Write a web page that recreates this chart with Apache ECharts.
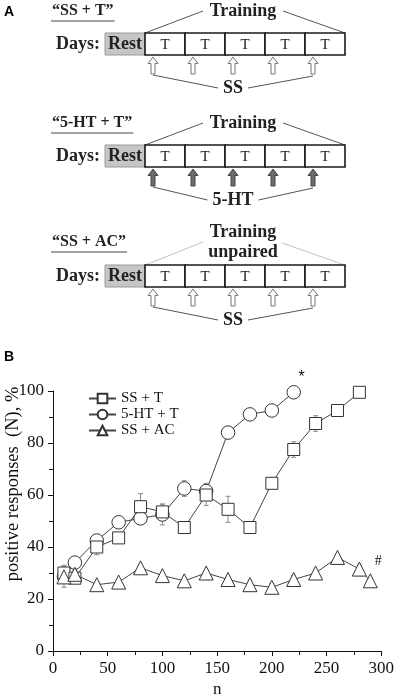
<!DOCTYPE html>
<html><head><meta charset="utf-8">
<script src="https://cdn.jsdelivr.net/npm/echarts@6/dist/echarts.min.js"></script>
<style>html,body{margin:0;padding:0;background:#fff}#c{width:397px;height:699px}</style>
</head><body><div id="c"></div>
<script>
// ---------- Data (panel B) ----------
const seriesNames = ['SS + T', '5-HT + T', 'SS + AC'];
const ssT_n   = [10, 20, 40, 60, 80, 100, 120, 140, 160, 180, 200, 220, 240, 260, 280];
const ssT_v   = [30, 28, 40, 43.5, 55.5, 53.5, 47.5, 60, 54.5, 47.5, 64.5, 77.5, 87.5, 92.5, 99.5];
const ssT_e   = [3, 2, 3, 2, 5, 3, 2, 4, 5, 2, 2, 3, 3, 2, 0];
const htT_n   = [10, 20, 40, 60, 80, 100, 120, 140, 160, 180, 200, 220];
const htT_v   = [28.5, 34, 42.5, 49.5, 51, 52.5, 62.5, 61.5, 84, 91, 92.5, 99.5];
const htT_e   = [4, 1, 2, 1, 2, 4, 3, 3, 1, 1, 1, 0];
const ssAC_n  = [10, 20, 40, 60, 80, 100, 120, 140, 160, 180, 200, 220, 240, 260, 280, 290];
const ssAC_v  = [28.5, 29.5, 25.5, 26.5, 32, 29, 27, 30, 27.5, 25.5, 24.5, 27.5, 30, 36, 31.5, 27];
const ssAC_e  = [2, 1.5, 1, 1, 1, 1, 1, 1, 1, 1.5, 1.5, 1.5, 1, 1, 1.5, 1];
const xTicks  = [0, 50, 100, 150, 200, 250, 300];
const yTicks  = [0, 20, 40, 60, 80, 100];
const xName = 'n';
const yName = 'positive responses  (N), %';
const starMark = {n: 220, v: 99.5, text: '*'};
const hashMark = {n: 290, v: 27, text: '#'};

// ---------- Data (panel A) ----------
const schemeTitles   = ['\u201cSS + T\u201d', '\u201c5-HT + T\u201d', '\u201cSS + AC\u201d'];
const schemeTraining = [['Training'], ['Training'], ['Training', 'unpaired']];
const schemeAgents   = ['SS', '5-HT', 'SS'];
const schemeFilled   = [false, true, false];
const schemeFaint    = [false, false, true];
const dayCells       = ['T', 'T', 'T', 'T', 'T'];
const restLabel = 'Rest';
const daysLabel = 'Days:';

const SERIF = '"Liberation Serif", "Times New Roman", serif';
const SANS = '"Liberation Sans", Arial, sans-serif';

const ctx = document.createElement('canvas').getContext('2d');
function measure(t, f) { ctx.font = f; return ctx.measureText(t).width; }

function buildPanelA() {
  const els = [];
  const boxTops = [33, 145, 265];
  els.push({type: 'text', x: 4, y: 12, style: {text: 'A', fontFamily: SANS, fontWeight: 'bold', fontSize: 14, fill: '#000', verticalAlign: 'middle'}});
  els.push({type: 'text', x: 4, y: 357, style: {text: 'B', fontFamily: SANS, fontWeight: 'bold', fontSize: 14, fill: '#000', verticalAlign: 'middle'}});
  schemeTitles.forEach((title, i) => {
    const t = boxTops[i];
    const faint = schemeFaint[i];
    const tr = schemeTraining[i];
    const titleY = tr.length > 1 ? t - 23 : t - 22;
    els.push({type: 'text', x: 52, y: titleY, style: {text: title, fontFamily: SERIF, fontWeight: 'bold', fontSize: 16, fill: '#222', verticalAlign: 'middle'}});
    const w = measure(title, 'bold 16px ' + SERIF);
    els.push({type: 'line', shape: {x1: 51, y1: titleY + 10, x2: 53 + w, y2: titleY + 10}, style: {stroke: '#444', lineWidth: 1}});
    const lineCol = faint ? '#c4c4c4' : '#555';
    if (tr.length === 1) {
      els.push({type: 'text', x: 243, y: t - 22, style: {text: tr[0], fontFamily: SERIF, fontWeight: 'bold', fontSize: 18, fill: '#222', align: 'center', verticalAlign: 'middle'}});
      els.push({type: 'line', shape: {x1: 145, y1: t, x2: 203, y2: t - 22}, style: {stroke: lineCol, lineWidth: 1}});
      els.push({type: 'line', shape: {x1: 283, y1: t - 22, x2: 345, y2: t}, style: {stroke: lineCol, lineWidth: 1}});
    } else {
      els.push({type: 'text', x: 243, y: t - 33, style: {text: tr[0], fontFamily: SERIF, fontWeight: 'bold', fontSize: 18, fill: '#222', align: 'center', verticalAlign: 'middle'}});
      els.push({type: 'text', x: 243, y: t - 13, style: {text: tr[1], fontFamily: SERIF, fontWeight: 'bold', fontSize: 18, fill: '#222', align: 'center', verticalAlign: 'middle'}});
      els.push({type: 'line', shape: {x1: 145, y1: t, x2: 203, y2: t - 23}, style: {stroke: lineCol, lineWidth: 1}});
      els.push({type: 'line', shape: {x1: 282, y1: t - 22, x2: 345, y2: t}, style: {stroke: lineCol, lineWidth: 1}});
    }
    els.push({type: 'text', x: 100, y: t + 11, style: {text: daysLabel, fontFamily: SERIF, fontWeight: 'bold', fontSize: 18, fill: '#222', align: 'right', verticalAlign: 'middle'}});
    els.push({type: 'rect', shape: {x: 105, y: t, width: 40, height: 22}, style: {fill: '#c6c6c6', stroke: '#9a9a9a', lineWidth: 1}});
    els.push({type: 'text', x: 125, y: t + 11, style: {text: restLabel, fontFamily: SERIF, fontWeight: 'bold', fontSize: 18, fill: '#222', align: 'center', verticalAlign: 'middle'}});
    dayCells.forEach((d, k) => {
      els.push({type: 'rect', shape: {x: 145 + 40 * k, y: t, width: 40, height: 22}, style: {fill: '#fff', stroke: '#1a1a1a', lineWidth: 1.6}, z: 2});
      els.push({type: 'text', x: 165 + 40 * k, y: t + 12, style: {text: d, fontFamily: SERIF, fontSize: 15, fill: '#222', align: 'center', verticalAlign: 'middle'}, z: 3});
      const cx = 153 + 40 * k, top = t + 24;
      els.push({type: 'polygon', shape: {points: [[cx, top], [cx + 5, top + 6.5], [cx + 2, top + 6.5], [cx + 2, top + 17], [cx - 2, top + 17], [cx - 2, top + 6.5], [cx - 5, top + 6.5]]},
        style: {fill: schemeFilled[i] ? '#6e6e6e' : '#fff', stroke: schemeFilled[i] ? '#444' : '#777', lineWidth: 1}});
    });
    const ag = schemeAgents[i];
    const aw = measure(ag, 'bold 18px ' + SERIF) / 2;
    els.push({type: 'text', x: 233, y: t + 55, style: {text: ag, fontFamily: SERIF, fontWeight: 'bold', fontSize: 18, fill: '#222', align: 'center', verticalAlign: 'middle'}});
    els.push({type: 'line', shape: {x1: 153, y1: t + 42, x2: 233 - aw - 5, y2: t + 55}, style: {stroke: '#555', lineWidth: 1}});
    els.push({type: 'line', shape: {x1: 233 + aw + 5, y1: t + 55, x2: 313, y2: t + 43}, style: {stroke: '#555', lineWidth: 1}});
  });
  els.push({type: 'text', x: 13, y: 484, rotation: Math.PI / 2, style: {text: yName, fontFamily: SERIF, fontSize: 18.5, fill: '#111', align: 'center', verticalAlign: 'middle'}});
  return els;
}

function errSeries(ns, vs, es) {
  return {
    type: 'custom', silent: true, clip: false, z: 1,
    data: ns.map((n, i) => [n, vs[i], es[i]]),
    encode: {x: 0, y: 1},
    renderItem: function (params, api) {
      const n = api.value(0), v = api.value(1), e = api.value(2);
      if (!e) return null;
      const p1 = api.coord([n, v + e]), p2 = api.coord([n, v - e]);
      const st = {stroke: '#8a8a8a', lineWidth: 1};
      return {type: 'group', children: [
        {type: 'line', shape: {x1: p1[0], y1: p1[1], x2: p2[0], y2: p2[1]}, style: st},
        {type: 'line', shape: {x1: p1[0] - 2.5, y1: p1[1], x2: p1[0] + 2.5, y2: p1[1]}, style: st},
        {type: 'line', shape: {x1: p2[0] - 2.5, y1: p2[1], x2: p2[0] + 2.5, y2: p2[1]}, style: st}
      ]};
    }
  };
}

function lineSeries(name, ns, vs, symbol, size, mark) {
  const s = {
    name: name, type: 'line', clip: false, z: 3,
    data: ns.map((n, i) => [n, vs[i]]),
    symbol: symbol, symbolSize: size, showSymbol: true,
    lineStyle: {color: '#444', width: 1},
    itemStyle: {color: '#fff', borderColor: '#333', borderWidth: 1},
    emphasis: {disabled: true}
  };
  if (mark) {
    s.markPoint = {
      symbol: 'circle', symbolSize: 1, itemStyle: {color: 'rgba(0,0,0,0)'},
      data: [{coord: [mark.n, mark.v], label: {show: true, formatter: mark.text, offset: mark.off, fontFamily: mark.font, fontSize: mark.size, color: '#111'}}]
    };
  }
  return s;
}

const chart = echarts.init(document.getElementById('c'), null, {renderer: 'canvas'});
chart.setOption({
  animation: false,
  backgroundColor: '#fff',
  grid: {left: 53, right: 14, top: 391, bottom: 43, containLabel: false},
  xAxis: {
    type: 'value', min: xTicks[0], max: xTicks[xTicks.length - 1], interval: 50,
    name: xName, nameLocation: 'middle', nameGap: 30,
    nameTextStyle: {fontFamily: SERIF, fontSize: 17, color: '#111'},
    axisLine: {show: true, onZero: false, lineStyle: {color: '#111', width: 1}},
    axisTick: {show: true, inside: false, length: 5, lineStyle: {color: '#111'}},
    minorTick: {show: true, splitNumber: 2, length: 4, lineStyle: {color: '#111'}},
    splitLine: {show: false},
    axisLabel: {fontFamily: SERIF, fontSize: 17, color: '#111', margin: 9}
  },
  yAxis: {
    type: 'value', min: yTicks[0], max: yTicks[yTicks.length - 1], interval: 20,
    axisLine: {show: true, onZero: false, lineStyle: {color: '#111', width: 1}},
    axisTick: {show: true, inside: false, length: 5, lineStyle: {color: '#111'}},
    minorTick: {show: true, splitNumber: 2, length: 4, lineStyle: {color: '#111'}},
    splitLine: {show: false},
    axisLabel: {fontFamily: SERIF, fontSize: 17, color: '#111', margin: 9}
  },
  legend: {
    data: seriesNames, orient: 'vertical', left: 83, top: 386,
    itemWidth: 27, itemHeight: 12, itemGap: 1,
    textStyle: {fontFamily: SERIF, fontSize: 15, color: '#111'},
    selectedMode: false
  },
  graphic: buildPanelA(),
  series: [
    errSeries(htT_n, htT_v, htT_e),
    errSeries(ssT_n, ssT_v, ssT_e),
    errSeries(ssAC_n, ssAC_v, ssAC_e),
    lineSeries(seriesNames[1], htT_n, htT_v, 'circle', 13.5, Object.assign({}, starMark, {off: [8, -15], font: SANS, size: 16})),
    lineSeries(seriesNames[0], ssT_n, ssT_v, 'rect', 12, null),
    lineSeries(seriesNames[2], ssAC_n, ssAC_v, 'triangle', 14, Object.assign({}, hashMark, {off: [8, -19], font: SERIF, size: 14}))
  ]
});
</script></body></html>
